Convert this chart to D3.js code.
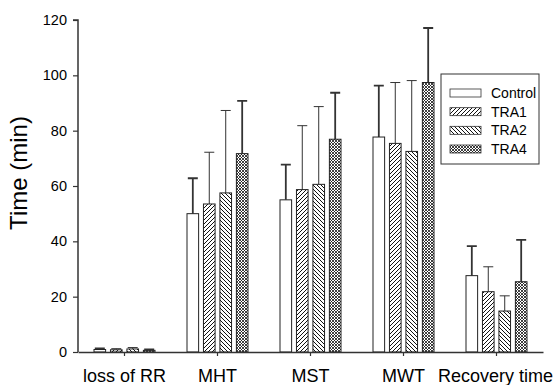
<!DOCTYPE html>
<html>
<head>
<meta charset="utf-8">
<script src="https://cdn.jsdelivr.net/npm/d3@7"></script>
<style>
  body { margin: 0; background: #fff; }
  text { font-family: "Liberation Sans", Arial, sans-serif; }
</style>
</head>
<body>
<div id="chart"></div>
<script>
// categories and series
var categories = ["loss of RR", "MHT", "MST", "MWT", "Recovery time"];
var series = ["Control", "TRA1", "TRA2", "TRA4"];

// mean values per series (one per category)
var control = [0.9, 50, 55, 77.7, 27.6];
var tra1 = [0.8, 53.5, 58.7, 75.4, 21.8];
var tra2 = [1.1, 57.5, 60.6, 72.5, 14.8];
var tra4 = [0.6, 71.7, 76.9, 97.4, 25.4];

// top of the error bars (mean + sd)
var controlErr = [1.3, 62.8, 67.7, 96.3, 38.3];
var tra1Err = [1.2, 72.2, 81.8, 97.4, 30.8];
var tra2Err = [1.6, 87.3, 88.7, 98.1, 20.3];
var tra4Err = [0.9, 90.8, 93.7, 117.1, 40.5];

var yTicks = [0, 20, 40, 60, 80, 100, 120];

var means = [control, tra1, tra2, tra4];
var errs = [controlErr, tra1Err, tra2Err, tra4Err];

var width = 556, height = 385;
var margin = {left: 78, right: 13, top: 20, bottom: 33};

var svg = d3.select("#chart")
  .append("svg")
  .attr("width", width)
  .attr("height", height);

var defs = svg.append("defs");

// hatch patterns
function hatch(id, paths, size, sw) {
  var p = defs.append("pattern")
    .attr("id", id)
    .attr("patternUnits", "userSpaceOnUse")
    .attr("width", size)
    .attr("height", size);
  p.append("rect").attr("width", size).attr("height", size).attr("fill", "#fff");
  paths.forEach(function(d) {
    p.append("path").attr("d", d).attr("stroke", "#111").attr("stroke-width", sw).attr("fill", "none");
  });
}
hatch("p1", ["M0,4 L4,0", "M-1,1 L1,-1", "M3,5 L5,3"], 4, 1);
hatch("p2", ["M0,0 L4,4", "M-1,3 L1,5", "M3,-1 L5,1"], 4, 1);
hatch("p4", ["M0,0 L3,3", "M0,3 L3,0", "M-1,2 L1,4", "M2,-1 L4,1", "M-1,1 L1,-1", "M2,4 L4,2"], 3, 0.8);

var fills = ["#fff", "url(#p1)", "url(#p2)", "url(#p4)"];
var errWidth = [1.8, 1, 1, 1.8];

var x = d3.scaleBand()
  .domain(categories)
  .range([margin.left, width - margin.right])
  .padding(0);

var xs = d3.scaleBand()
  .domain(series)
  .range([-30.5, 30.5])
  .paddingInner(0.294)
  .paddingOuter(0);

var y = d3.scaleLinear()
  .domain([0, 120])
  .range([height - margin.bottom, margin.top]);

// bars
series.forEach(function(s, si) {
  var g = svg.append("g");
  var rows = categories.map(function(c, ci) {
    return {cat: c, v: means[si][ci], e: errs[si][ci]};
  });

  // error bars (upper only)
  g.selectAll(".err")
    .data(rows)
    .enter().append("path")
    .attr("d", function(d) {
      var cx = x(d.cat) + x.bandwidth() / 2 + xs(s) + xs.bandwidth() / 2;
      return "M" + cx + "," + y(d.v) + "V" + y(d.e) + "M" + (cx - 5) + "," + y(d.e) + "H" + (cx + 5);
    })
    .attr("stroke", "#333")
    .attr("stroke-width", errWidth[si])
    .attr("fill", "none");

  g.selectAll(".bar")
    .data(rows)
    .enter().append("rect")
    .attr("x", function(d) { return x(d.cat) + x.bandwidth() / 2 + xs(s); })
    .attr("y", function(d) { return y(d.v); })
    .attr("width", xs.bandwidth())
    .attr("height", function(d) { return y(0) - y(d.v); })
    .attr("fill", fills[si])
    .attr("stroke", "#222")
    .attr("stroke-width", 1);
});

// y axis
var yAxis = d3.axisLeft(y).tickValues(yTicks).tickSize(5).tickPadding(6);
var gY = svg.append("g")
  .attr("transform", "translate(" + margin.left + ",0)")
  .call(yAxis);
gY.select(".domain").attr("stroke", "#333").attr("stroke-width", 1.5).attr("d", "M-5," + y(120) + "H0V" + y(0));
gY.selectAll(".tick line").attr("stroke", "#333").attr("stroke-width", 1.2);
gY.selectAll(".tick text").attr("font-size", "14.5px").attr("fill", "#000")
  .style("font-family", "'Liberation Sans', Arial, sans-serif");

// x axis
var xAxis = d3.axisBottom(x).tickSize(4).tickPadding(13).tickSizeOuter(0);
var gX = svg.append("g")
  .attr("transform", "translate(0," + y(0) + ")")
  .call(xAxis);
gX.select(".domain").attr("stroke", "#333").attr("stroke-width", 1.5);
gX.selectAll(".tick line").attr("stroke", "#333").attr("stroke-width", 1.2);
gX.selectAll(".tick text").attr("font-size", "18px").attr("fill", "#000")
  .style("font-family", "'Liberation Sans', Arial, sans-serif");
// last label is pushed left so it stays inside the picture
gX.selectAll(".tick text")
  .filter(function(d) { return d === categories[categories.length - 1]; })
  .attr("text-anchor", "end")
  .attr("x", function(d) { return width - 3 - (x(d) + x.bandwidth() / 2); });

// y label
svg.append("text")
  .attr("transform", "translate(27," + ((y(0) + y(120)) / 2 - 13) + ") rotate(-90)")
  .attr("text-anchor", "middle")
  .attr("font-size", "24px")
  .text("Time (min)");

// legend
var lg = svg.append("g");
lg.append("rect")
  .attr("x", 441).attr("y", 74)
  .attr("width", 98).attr("height", 90)
  .attr("fill", "#fff")
  .attr("stroke", "#333")
  .attr("stroke-width", 1);

var ly = d3.scalePoint().domain(series).range([93, 149]);
series.forEach(function(s, si) {
  lg.append("rect")
    .attr("x", 450).attr("y", ly(s) - 4)
    .attr("width", 31).attr("height", 8)
    .attr("fill", fills[si])
    .attr("stroke", "#333")
    .attr("stroke-width", 0.8);
  lg.append("text")
    .attr("x", 491).attr("y", ly(s) + 5)
    .attr("font-size", "14px")
    .text(s);
});
</script>
</body>
</html>
